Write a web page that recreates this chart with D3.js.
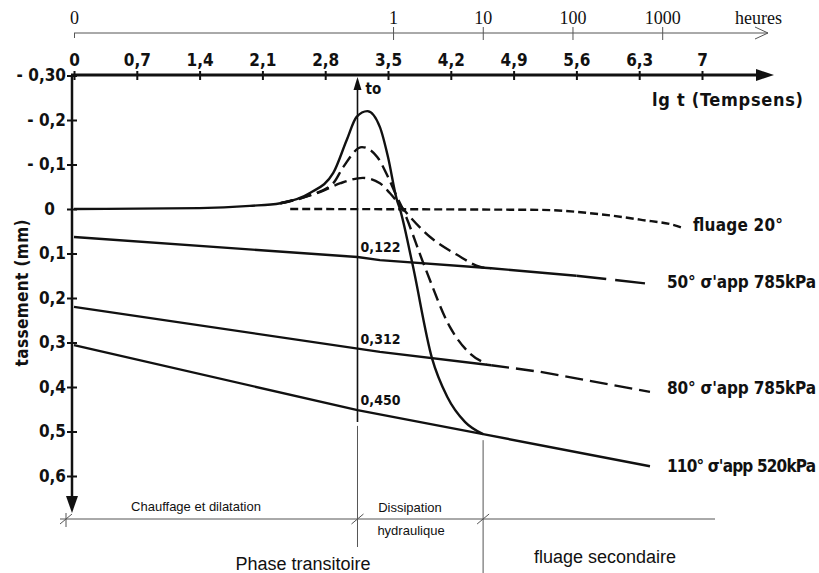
<!DOCTYPE html>
<meta charset="utf-8">
<head>
  <title>Tassement - phase transitoire</title>
</head>
<style>
body { margin: 0; background: #fff; }
svg text { fill: #111; }
.hand { font-family: "DejaVu Sans"; font-weight: bold; font-stretch: condensed; }
.serif { font-family: "Liberation Serif"; }
.plain { font-family: "Liberation Sans"; }
.curve { fill: none; stroke: #111; stroke-width: 2.4px; }
.thin { stroke: #555; stroke-width: 1px; fill: none; }
</style>
<body>
  <svg width="819" height="573"></svg>
  <script src="https://cdnjs.cloudflare.com/ajax/libs/d3/7.8.5/d3.min.js"></script>
  <script>
// axes
var lgTicks = [0, 0.7, 1.4, 2.1, 2.8, 3.5, 4.2, 4.9, 5.6, 6.3, 7];
var lgLabels = ["0", "0,7", "1,4", "2,1", "2,8", "3,5", "4,2", "4,9", "5,6", "6,3", "7"];
var hourTicks = [0, 1, 10, 100, 1000];
var yTicks = [-0.3, -0.2, -0.1, 0, 0.1, 0.2, 0.3, 0.4, 0.5, 0.6];
var yLabels = ["- 0,30", "- 0,2", "- 0,1", "0", "0,1", "0,2", "0,3", "0,4", "0,5", "0,6"];

// transient curves [lg t, tassement mm]
var peak110 = [[0, 0], [1.4, -0.002], [1.96, -0.007], [2.3, -0.013], [2.63, -0.036], [2.89, -0.081],
  [3.04, -0.155], [3.15, -0.207], [3.27, -0.22], [3.41, -0.184], [3.5, -0.117], [3.6, -0.02],
  [3.63, -0.002], [3.77, 0.121], [3.99, 0.335], [4.16, 0.422], [4.36, 0.479], [4.56, 0.506]];
var peak80 = [[2.3, -0.013], [2.63, -0.031], [2.89, -0.058], [3.0, -0.094], [3.21, -0.139],
  [3.38, -0.117], [3.5, -0.072], [3.6, -0.027], [3.66, -0.002], [3.91, 0.13], [4.19, 0.265],
  [4.41, 0.324], [4.6, 0.348]];
var peak50 = [[2.3, -0.013], [2.74, -0.038], [2.97, -0.058], [3.22, -0.07], [3.41, -0.058],
  [3.52, -0.036], [3.66, -0.002], [3.97, 0.063], [4.27, 0.103], [4.53, 0.13], [4.65, 0.133]];
var fluage20 = [[2.41, 0], [5.2, 0.002], [5.87, 0.012], [6.31, 0.024], [6.75, 0.04], [6.79, 0.043]];

// creep lines
var line50 = [[0, 0.063], [3.16, 0.108], [3.41, 0.115], [4.65, 0.133], [5.6, 0.15]];
var line50Dash = [[5.6, 0.15], [6.45, 0.169]];
var line80 = [[0, 0.22], [3.41, 0.321], [4.65, 0.351]];
var line80Dash = [[4.65, 0.351], [5.2, 0.366], [6.42, 0.411]];
var line110 = [[0, 0.306], [3.16, 0.452], [4.56, 0.506], [6.42, 0.578]];

var t0 = 3.16;
var tEnd = 4.56;
var values = [["0,122", 0.103], ["0,312", 0.31], ["0,450", 0.447]];
var lineLabels = [["fluage 20°", 0.05], ["50° σ'app 785kPa", 0.178], ["80° σ'app 785kPa", 0.416], ["110° σ'app 520kPa", 0.591]];

var x = d3.scaleLinear().domain([0, 7]).range([74, 702]);
var y = d3.scaleLinear().domain([-0.3, 0.6]).range([75.5, 476]);
var svg = d3.select('svg');

// top axis in hours
var gTop = svg.append('g').attr('transform', 'translate(0,33)')
  .call(d3.axisTop(x)
    .tickValues(hourTicks.map(function(h) { return h ? Math.log10(h * 3600) : 0; }))
    .tickFormat(function(d, i) { return hourTicks[i]; })
    .tickSizeOuter(0));
gTop.select('.domain').remove();
gTop.selectAll('.tick line').attr('y1', function(d, i) { return i ? 7 : 5; }).attr('y2', function(d, i) { return i ? -6 : 0; })
  .attr('stroke', '#555');
gTop.selectAll('.tick text').attr('class', 'serif').attr('y', -9).style('font-size', '18px').attr('fill', '#111');
svg.append('path').attr('class', 'thin').attr('d', 'M74,33H768M755,27L768,33L755,39');
svg.append('text').attr('class', 'serif').attr('x', 735).attr('y', 24).style('font-size', '18px').text('heures');

// main lg t axis
var gX = svg.append('g').attr('transform', 'translate(0,75)')
  .call(d3.axisTop(x).tickValues(lgTicks).tickFormat(function(d, i) { return lgLabels[i]; }).tickSizeOuter(0));
gX.select('.domain').remove();
gX.selectAll('.tick line').attr('y1', 5).attr('y2', -4).attr('stroke', '#111').attr('stroke-width', 2);
gX.selectAll('.tick text').attr('class', 'hand').attr('y', -9).style('font-size', '17px').attr('fill', '#111');
svg.append('path').attr('d', 'M71,75H760').attr('stroke', '#111').attr('stroke-width', 3);
svg.append('path').attr('d', 'M756,69L774,75L756,81Z').attr('fill', '#111');
svg.append('text').attr('class', 'hand').attr('x', 652).attr('y', 106).style('font-size', '18px')
  .attr('textLength', 151).text('lg t (Tempsens)');

// y axis
var gY = svg.append('g').attr('transform', 'translate(72,0)')
  .call(d3.axisLeft(y).tickValues(yTicks).tickFormat(function(d, i) { return yLabels[i]; }).tickSizeOuter(0));
gY.select('.domain').remove();
gY.selectAll('.tick line').attr('x1', -5).attr('x2', 5).attr('stroke', '#111').attr('stroke-width', 2);
gY.selectAll('.tick text').attr('class', 'hand').attr('x', function(d) { return d === 0 ? -17 : -6; })
  .style('font-size', '17px').attr('fill', '#111');
svg.append('path').attr('d', 'M72,75V500').attr('stroke', '#111').attr('stroke-width', 2.5);
svg.append('path').attr('d', 'M66,496L78,496L72,513Z').attr('fill', '#111');
svg.append('text').attr('class', 'hand').attr('transform', 'translate(28,293) rotate(-90)')
  .attr('text-anchor', 'middle').style('font-size', '17px').attr('textLength', 147).text('tassement (mm)');

// t0 marker
svg.append('path').attr('d', 'M' + x(t0) + ',86V' + (y(0.447) + 14)).attr('stroke', '#111').attr('stroke-width', 1.6);
svg.append('path').attr('d', 'M' + (x(t0) - 4) + ',90L' + x(t0) + ',77L' + (x(t0) + 4) + ',90Z').attr('fill', '#111');
svg.append('text').attr('class', 'hand').attr('x', x(t0) + 8).attr('y', 94).style('font-size', '15px').text('to');

var line = d3.line().x(function(d) { return x(d[0]); }).y(function(d) { return y(d[1]); });
var smooth = d3.line().curve(d3.curveMonotoneX).x(function(d) { return x(d[0]); }).y(function(d) { return y(d[1]); });

svg.append('path').datum(line50).attr('class', 'curve').attr('d', line);
svg.append('path').datum(line50Dash).attr('class', 'curve').attr('d', line).attr('stroke-dasharray', '30,9');
svg.append('path').datum(line80).attr('class', 'curve').attr('d', line);
svg.append('path').datum(line80Dash).attr('class', 'curve').attr('d', line).attr('stroke-dasharray', '18,7');
svg.append('path').datum(line110).attr('class', 'curve').attr('d', line);

svg.append('path').datum(fluage20).attr('class', 'curve').attr('d', smooth).attr('stroke-dasharray', '8,4');
svg.append('path').datum(peak110).attr('class', 'curve').attr('d', smooth);
svg.append('path').datum(peak80).attr('class', 'curve').attr('d', smooth).attr('stroke-dasharray', '13,6');
svg.append('path').datum(peak50).attr('class', 'curve').attr('d', smooth).attr('stroke-dasharray', '13,6');

svg.selectAll('text.val').data(values).enter().append('text')
  .attr('class', 'hand').attr('x', x(t0) + 3).attr('y', function(d) { return y(d[1]) - 3; })
  .style('font-size', '14px').attr('textLength', 40).text(function(d) { return d[0]; });

svg.selectAll('text.lab').data(lineLabels).enter().append('text')
  .attr('class', 'hand').attr('x', function(d, i) { return i ? 667 : 693; }).attr('y', function(d) { return y(d[1]); })
  .style('font-size', '17px').attr('textLength', function(d, i) { return i ? 149 : 90; })
  .text(function(d) { return d[0]; });

// phase bar
var phaseY = 519;
svg.append('path').attr('class', 'thin').attr('d', 'M60,' + phaseY + 'H715');
svg.append('path').attr('class', 'thin').attr('d', 'M' + x(t0) + ',' + (y(0.447) + 18) + 'V547');
svg.append('path').attr('class', 'thin').attr('d', 'M' + x(tEnd) + ',' + (y(0.506) + 6) + 'V573');
[66, x(t0), x(tEnd)].forEach(function(px) {
  svg.append('path').attr('class', 'thin').attr('d', 'M' + (px - 6) + ',' + (phaseY + 5) + 'L' + (px + 6) + ',' + (phaseY - 5));
});
svg.append('path').attr('class', 'thin').attr('d', 'M66,' + (phaseY - 6) + 'V' + (phaseY + 8));

svg.append('text').attr('class', 'plain').attr('x', 196).attr('y', 511).attr('text-anchor', 'middle').style('font-size', '13px').text('Chauffage et dilatation');
svg.append('text').attr('class', 'plain').attr('x', 410).attr('y', 512).attr('text-anchor', 'middle').style('font-size', '13px').text('Dissipation');
svg.append('text').attr('class', 'plain').attr('x', 411).attr('y', 535).attr('text-anchor', 'middle').style('font-size', '13px').text('hydraulique');
svg.append('text').attr('class', 'plain').attr('x', 303).attr('y', 570).attr('text-anchor', 'middle').style('font-size', '18px').text('Phase transitoire');
svg.append('text').attr('class', 'plain').attr('x', 605).attr('y', 563).attr('text-anchor', 'middle').style('font-size', '18px').text('fluage secondaire');
  </script>
</body>
